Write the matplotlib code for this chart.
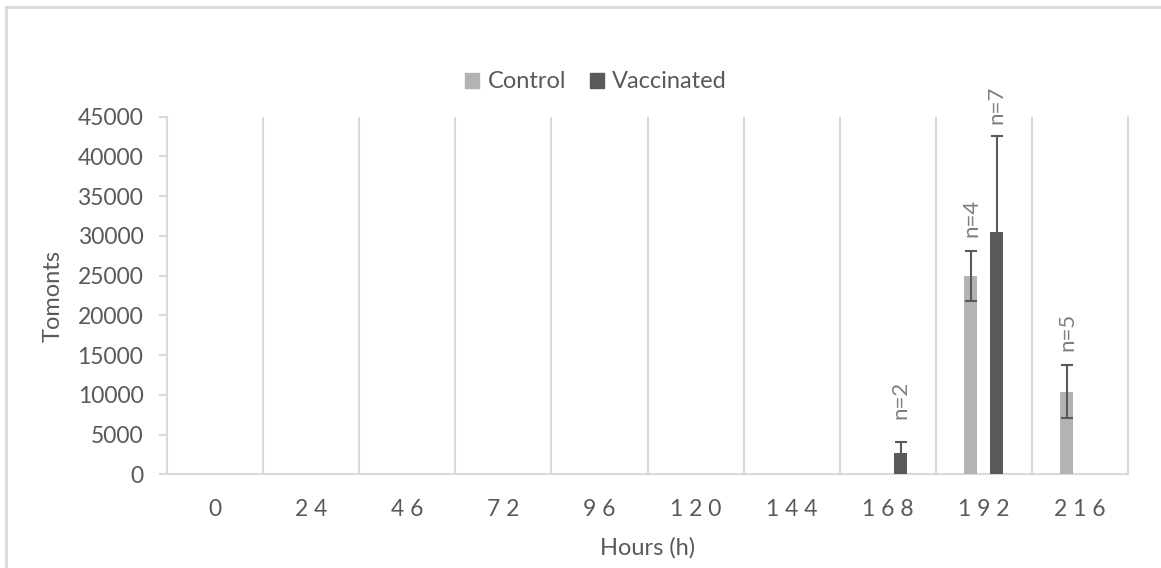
import matplotlib
matplotlib.use("Agg")
import matplotlib.pyplot as plt
import numpy as np
from matplotlib.lines import Line2D
from matplotlib.patches import Patch

categories = ["0", "24", "46", "72", "96", "120", "144", "168", "192", "216"]
control = [0, 0, 0, 0, 0, 0, 0, 0, 25000, 10400]
control_err = [0, 0, 0, 0, 0, 0, 0, 0, 3150, 3350]
vaccinated = [0, 0, 0, 0, 0, 0, 0, 2650, 30500, 0]
vaccinated_err = [0, 0, 0, 0, 0, 0, 0, 1380, 12050, 0]
control_n = {8: "n=4", 9: "n=5"}
vaccinated_n = {7: "n=2", 8: "n=7"}

plt.rcParams['font.family'] = ['Lato', 'DejaVu Sans']
TXT = '#595959'
GRID = '#d9d9d9'
C_CTRL = '#b3b3b3'
C_VAC = '#595959'
FS_NUM = 16.5
FS_TXT = 17

fig = plt.figure(figsize=(11.61, 5.68), dpi=100)
ax = fig.add_axes([167/1161, 1 - 474.3/568, (1128 - 167)/1161, (474.3 - 116.7)/568])

x = np.arange(len(categories))
w = 0.135
off = 0.135

def draw(vals, errs, color, sign):
    xs = x + sign * off
    ax.bar(xs, vals, width=w, color=color, zorder=3)
    for xi, v, e in zip(xs, vals, errs):
        if v > 0 or e > 0:
            ax.errorbar(xi, v, yerr=e, fmt='none', ecolor='#595959',
                        elinewidth=1.5, capsize=4.5, capthick=1.5, zorder=4)

draw(control, control_err, C_CTRL, -1)
draw(vaccinated, vaccinated_err, C_VAC, 1)

for idx, lab in control_n.items():
    ax.annotate(lab, (x[idx] - off, control[idx] + control_err[idx]),
                xytext=(0, 10), textcoords='offset points', rotation=90,
                ha='center', va='bottom', color='#7f7f7f', fontsize=16)
for idx, lab in vaccinated_n.items():
    dy = 17 if idx == 7 else 9
    ax.annotate(lab, (x[idx] + off, vaccinated[idx] + vaccinated_err[idx]),
                xytext=(0, dy), textcoords='offset points', rotation=90,
                ha='center', va='bottom', color='#7f7f7f', fontsize=16)

ax.set_xlim(-0.5, len(categories) - 0.5)
ax.set_ylim(0, 45000)
ax.set_yticks(np.arange(0, 45001, 5000))
ax.set_xticks(x)
ax.set_xticklabels([" ".join(c) for c in categories])

for b in np.arange(0.5, len(categories), 1.0):
    ax.axvline(b, color=GRID, lw=1.5, zorder=1)

ax.spines['top'].set_visible(False)
for s in ['left', 'bottom', 'right']:
    ax.spines[s].set_color(GRID)
    ax.spines[s].set_linewidth(1.5)

ax.tick_params(axis='y', colors=TXT, labelsize=FS_NUM, length=6, width=1.5,
               color=GRID, pad=11)
ax.tick_params(axis='x', colors=TXT, labelsize=FS_NUM, length=0, pad=18)

ax.set_xlabel("Hours (h)", color=TXT, fontsize=FS_TXT, labelpad=12)
ax.set_ylabel("Tomonts", color=TXT, fontsize=FS_TXT, labelpad=10)

handles = [Patch(color=C_CTRL, label='Control'), Patch(color=C_VAC, label='Vaccinated')]
fig.legend(handles=handles, loc='center', bbox_to_anchor=(596/1161, 1 - 82/568),
           ncol=2, frameon=False, fontsize=FS_TXT, labelcolor=TXT,
           handlelength=0.6, handleheight=0.6, handletextpad=0.35, columnspacing=1.0)

# outer chart border
fig.add_artist(Line2D([6/1161, 1.0], [1 - 7/568, 1 - 7/568], transform=fig.transFigure,
                      color=GRID, lw=2))
fig.add_artist(Line2D([6/1161, 6/1161], [0, 1 - 7/568], transform=fig.transFigure,
                      color=GRID, lw=2))

fig.savefig("out.png", dpi=100)
